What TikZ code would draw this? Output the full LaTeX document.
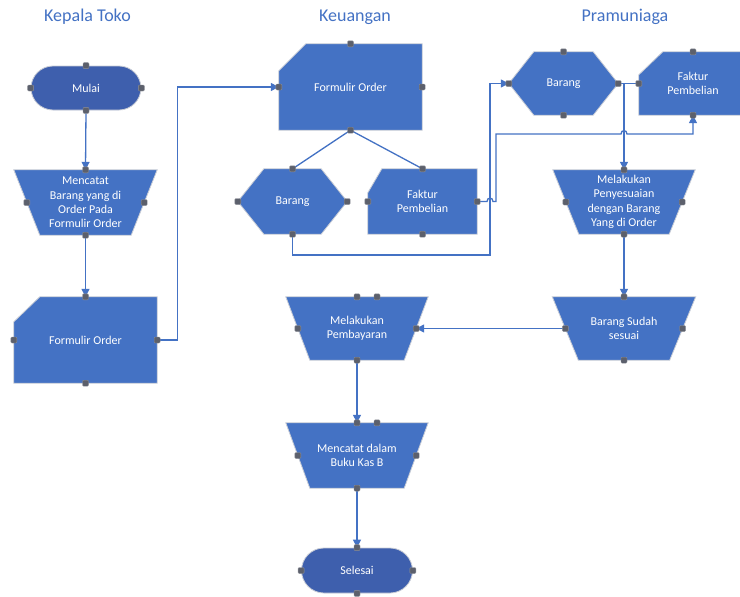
\documentclass[tikz,border=0pt]{standalone}
\usepackage{fontspec}
\setmainfont{Carlito}
\usetikzlibrary{calc,arrows.meta}
\definecolor{shp}{HTML}{4472C4}
\definecolor{term}{HTML}{3E5FAD}
\definecolor{edgec}{HTML}{C9CDD6}
\definecolor{hdl}{HTML}{5C606C}
\definecolor{ttl}{HTML}{4472C4}
\pgfdeclarelayer{back}\pgfdeclarelayer{bg}\pgfdeclarelayer{fg}\pgfsetlayers{back,bg,main,fg}
\tikzset{
  lbl/.style={rectangle,inner sep=0pt,text=white,align=center,font=\fontsize{12}{14.4}\selectfont},
  termnode/.style={lbl,fill=term,draw=edgec,line width=0.8pt,rounded corners=22pt,minimum width=110pt,minimum height=44pt},
  shapebody/.style={fill=shp,draw=edgec,line width=0.8pt},
  conn/.style={draw=shp,line width=1.3pt},
  arr/.style={conn,-{Triangle[length=8pt,width=8pt]}},
  titlelbl/.style={text=ttl,inner sep=0pt,font=\fontsize{18}{22}\selectfont},
  hdlbox/.style={rectangle,fill=hdl,draw=hdl!70!white,line width=0.4pt,rounded corners=1pt,minimum size=6pt,inner sep=0pt}
}
\newcommand\trapbody[2]{\path[shapebody] ($(#1.north west)+(-#2,0)$) -- ($(#1.north east)+(#2,0)$) -- ($(#1.south east)+(-#2,0)$) -- ($(#1.south west)+(#2,0)$) -- cycle;}
\newcommand\hexbody[2]{\path[shapebody] (#1.west) -- ($(#1.north west)+(#2,0)$) -- ($(#1.north east)+(-#2,0)$) -- (#1.east) -- ($(#1.south east)+(-#2,0)$) -- ($(#1.south west)+(#2,0)$) -- cycle;}
\newcommand\cardbody[3]{\path[shapebody] ($(#1.north west)+(0,#3)$) -- ($(#1.north west)+(#2,0)$) -- (#1.north east) -- (#1.south east) -- (#1.south west) -- cycle;}
\begin{document}
\begin{tikzpicture}[x=1pt,y=-1pt]
\useasboundingbox (0,0) rectangle (740,597);
\begin{pgfonlayer}{back}
\fill[white] (0,0) rectangle (740,597);
\end{pgfonlayer}

% titles
\node[titlelbl] (t1) at (87.5,17) {Kepala Toko};
\node[titlelbl] (t2) at (355,17) {Keuangan};
\node[titlelbl] (t3) at (625,17) {Pramuniaga};

% nodes
\node[termnode] (mulai) at (86,88) {Mulai};
\node[lbl,minimum width=117pt,minimum height=65pt] (mencatat) at (85.5,202.5) {Mencatat\\Barang yang di\\Order Pada\\Formulir Order};
\node[lbl,minimum width=143pt,minimum height=86pt] (fo1) at (85.5,340) {Formulir Order};
\node[lbl,minimum width=143pt,minimum height=86pt] (fo2) at (350.5,87) {Formulir Order};
\node[lbl,minimum width=109pt,minimum height=65pt] (barangK) at (292.5,201.5) {Barang};
\node[lbl,minimum width=109pt,minimum height=65pt] (fakturK) at (422.5,201.5) {Faktur\\Pembelian};
\node[lbl,minimum width=109pt,minimum height=63pt] (barangP) at (563.5,83.5) {Barang};
\node[lbl,minimum width=108pt,minimum height=63pt] (fakturP) at (693,83.5) {Faktur\\Pembelian};
\node[lbl,minimum width=116pt,minimum height=64pt] (penyesuaian) at (624,202) {Melakukan\\Penyesuaian\\dengan Barang\\Yang di Order};
\node[lbl,minimum width=117pt,minimum height=63pt] (sesuai) at (624,328.5) {Barang Sudah\\sesuai};
\node[lbl,minimum width=118pt,minimum height=63pt] (pembayaran) at (357,328.5) {Melakukan\\Pembayaran};
\node[lbl,minimum width=118pt,minimum height=65pt] (kas) at (357,455.5) {Mencatat dalam\\Buku Kas B};
\node[termnode,minimum width=111pt,minimum height=45pt,rounded corners=22.5pt] (selesai) at (357,570.5) {Selesai};

% shape bodies
\begin{pgfonlayer}{bg}
  \trapbody{mencatat}{13}
  \trapbody{penyesuaian}{13}
  \trapbody{sesuai}{13}
  \trapbody{pembayaran}{12}
  \trapbody{kas}{12}
  \hexbody{barangK}{26}
  \hexbody{barangP}{25}
  \cardbody{fo1}{26}{25}
  \cardbody{fo2}{27}{27}
  \cardbody{fakturK}{14}{24}
  \cardbody{fakturP}{24}{23}
\end{pgfonlayer}

% connectors
\draw[arr] (mulai.south) -- (mencatat.north);
\draw[arr] (mencatat.south) -- (fo1.north);
\draw[arr] (fo1.east) -- ++(20,0) |- (fo2.west);
\draw[conn] (fo2.south) -- (barangK.north);
\draw[conn] (fo2.south) -- (fakturK.north);
\coordinate (j1) at (490,255);
\coordinate (j2) at (496,134);
\draw[arr] (barangK.south) |- (j1) |- (barangP.west);
\draw[arr] (fakturK.east) -- ($(j1 |- fakturK.east)+(-3,0)$)
   .. controls +(0,-4.5) and +(0,-4.5) .. ($(j1 |- fakturK.east)+(3,0)$)
   -- (j2 |- fakturK.east) -- (j2)
   -- ($(penyesuaian.north |- j2)+(-3,0)$)
   .. controls +(0,-4.5) and +(0,-4.5) .. ($(penyesuaian.north |- j2)+(3,0)$)
   -| (fakturP.south);
\draw[conn] (barangP.east) -- (fakturP.west);
\draw[arr] (barangP.east) -| (penyesuaian.north);
\draw[arr] (penyesuaian.south) -- (sesuai.north);
\draw[arr] (sesuai.west) -- (pembayaran.east);
\draw[arr] (pembayaran.south) -- (kas.north);
\draw[arr] (kas.south) -- (selesai.north);

% handles
\begin{pgfonlayer}{fg}
  \foreach \n in {mulai,mencatat,fo1,fo2,barangK,fakturK,barangP,fakturP,penyesuaian,sesuai,pembayaran,kas,selesai}{
    \foreach \a in {north,south,east,west}{
      \node[hdlbox] (h-\n-\a) at (\n.\a) {};
    }
  }
  \node[hdlbox] (h-pembayaran-x) at ($(pembayaran.north)+(20,0)$) {};
  \node[hdlbox] (h-kas-x) at ($(kas.north)+(20,0)$) {};
\end{pgfonlayer}
\end{tikzpicture}
\end{document}
